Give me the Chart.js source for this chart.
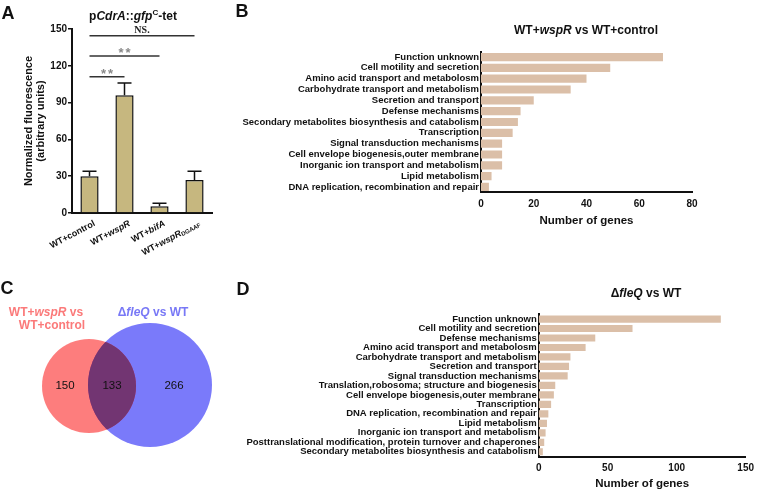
<!DOCTYPE html>
<html>
<head>
<meta charset="utf-8">
<script src="https://cdn.jsdelivr.net/npm/chart.js@4"></script>
<style>
    body { margin: 0; background: #fff; }
    #fig { position: relative; width: 760px; height: 491px; overflow: hidden; font-family: Arial, "Liberation Sans", sans-serif; color: #111; }
    canvas { position: absolute; }
    .lbl { position: absolute; font-weight: bold; white-space: nowrap; transform: translate(-50%, -50%); }
    .panel { font-size: 18px; }
    .ttl { font-size: 12px; }
</style>
</head>
<body>
<div id="fig">
    <canvas id="chartA" width="230" height="280" style="left:0;top:0"></canvas>
    <canvas id="chartB" width="530" height="280" style="left:230px;top:0"></canvas>
    <canvas id="chartC" width="230" height="211" style="left:0;top:280px"></canvas>
    <canvas id="chartD" width="530" height="211" style="left:230px;top:280px"></canvas>

    <div class="lbl panel" style="left:8px;top:13px">A</div>
    <div class="lbl panel" style="left:242px;top:11px">B</div>
    <div class="lbl panel" style="left:7px;top:288px">C</div>
    <div class="lbl panel" style="left:243px;top:289px">D</div>

    <div class="lbl ttl" style="left:133px;top:15px">p<i>CdrA</i>::<i>gfp</i><sup style="font-size:8px">C</sup>-tet</div>
    <div class="lbl ttl" style="left:586px;top:30px">WT+<i>wspR</i> vs WT+control</div>
    <div class="lbl ttl" style="left:646px;top:293px">Δ<i>fleQ</i> vs WT</div>

    <div class="lbl ttl" style="left:46px;top:312px;color:#fb7a7a">WT+<i>wspR</i> vs</div>
    <div class="lbl ttl" style="left:52px;top:325px;color:#fb7a7a">WT+control</div>
    <div class="lbl ttl" style="left:153px;top:312px;color:#7878f6">Δ<i>fleQ</i> vs WT</div>
</div>
<script>
Chart.defaults.font.family = 'Arial, "Liberation Sans", sans-serif';
const FONT = 'Arial, "Liberation Sans", sans-serif';

// panel A: fluorescence
const aLabelParts = [
    [['WT+control', '']],
    [['WT+', ''], ['wspR', 'italic']],
    [['WT+', ''], ['bifA', 'italic']],
    [['WT+', ''], ['wspR', 'italic'], ['DGAAF', 'sub']]
];
const aCats = aLabelParts.map(p => p.map(s => s[0]).join(''));
const aMeans = [30, 96, 5.5, 27];
const aErrors = [4, 10, 2.5, 7];
const sigPairs = [[0, 1], [0, 2], [0, 3]];
const sigLevels = [111, 128, 144.5];
const sigMarks = ['**', '**', 'NS.'];

// panel B: WT+wspR vs WT+control
const bCats = [
    'Function unknown',
    'Cell motility and secretion',
    'Amino acid transport and metabolosm',
    'Carbohydrate transport and metabolism',
    'Secretion and transport',
    'Defense mechanisms',
    'Secondary metabolites biosynthesis and catabolism',
    'Transcription',
    'Signal transduction mechanisms',
    'Cell envelope biogenesis,outer membrane',
    'Inorganic ion transport and metabolism',
    'Lipid metabolism',
    'DNA replication, recombination and repair'
];
const bCounts = [69, 49, 40, 34, 20, 15, 14, 12, 8, 8, 8, 4, 3];

// panel C: venn
const vennCounts = [150, 133, 266];
const vennColors = ['rgba(251,0,0,0.51)', 'rgba(0,0,245,0.52)'];
const vennOverlapColor = '#723572';

// panel D: fleQ vs WT
const dCats = [
    'Function unknown',
    'Cell motility and secretion',
    'Defense mechanisms',
    'Amino acid transport and metabolosm',
    'Carbohydrate transport and metabolism',
    'Secretion and transport',
    'Signal transduction mechanisms',
    'Translation,robosoma; structure and biogenesis',
    'Cell envelope biogenesis,outer membrane',
    'Transcription',
    'DNA replication, recombination and repair',
    'Lipid metabolism',
    'Inorganic ion transport and metabolism',
    'Posttranslational modification, protein turnover and chaperones',
    'Secondary metabolites biosynthesis and catabolism'
];
const dCounts = [132, 68, 41, 34, 23, 22, 21, 12, 11, 9, 7, 6, 5, 4, 3];

const aBarColor = '#c6b77f';
const geneColor = '#dbbfa8';

const errorBars = {
    id: 'errorBars',
    afterDatasetsDraw(chart) {
        const { ctx, scales: { y } } = chart;
        ctx.save();
        ctx.strokeStyle = '#111';
        ctx.lineWidth = 1.5;
        chart.getDatasetMeta(0).data.forEach((bar, i) => {
            const top = y.getPixelForValue(aMeans[i] + aErrors[i]);
            ctx.beginPath();
            ctx.moveTo(bar.x, bar.y);
            ctx.lineTo(bar.x, top);
            ctx.moveTo(bar.x - 7, top);
            ctx.lineTo(bar.x + 7, top);
            ctx.stroke();
        });
        ctx.restore();
    }
};

const sigBrackets = {
    id: 'sigBrackets',
    afterDraw(chart) {
        const { ctx, scales: { x, y } } = chart;
        ctx.save();
        sigPairs.forEach(([a, b], k) => {
            const x1 = x.getPixelForValue(a), x2 = x.getPixelForValue(b);
            const yy = y.getPixelForValue(sigLevels[k]);
            ctx.strokeStyle = '#333';
            ctx.lineWidth = 1.5;
            ctx.beginPath();
            ctx.moveTo(x1, yy);
            ctx.lineTo(x2, yy);
            ctx.stroke();
            const ns = sigMarks[k] === 'NS.';
            ctx.textAlign = 'center';
            ctx.textBaseline = 'alphabetic';
            if (ns) {
                ctx.fillStyle = '#222';
                ctx.font = 'bold 10px "Liberation Serif", serif';
                ctx.fillText(sigMarks[k], (x1 + x2) / 2, yy - 2.5);
            } else {
                ctx.fillStyle = '#888';
                ctx.font = 'bold 13px ' + FONT;
                ctx.letterSpacing = '2px';
                ctx.fillText(sigMarks[k], (x1 + x2) / 2 + 1, yy + 1);
                ctx.letterSpacing = '0px';
            }
        });
        ctx.restore();
    }
};

const aLabels = {
    id: 'aLabels',
    afterDraw(chart) {
        const { ctx, scales: { x }, chartArea } = chart;
        aLabelParts.forEach((parts, i) => {
            const fonts = parts.map(p => p[1] === 'sub' ? 'bold 6px ' + FONT
                : p[1] === 'italic' ? 'italic bold 9px ' + FONT : 'bold 9px ' + FONT);
            const widths = parts.map((p, k) => { ctx.font = fonts[k]; return ctx.measureText(p[0]).width; });
            const total = widths.reduce((s, w) => s + w, 0);
            ctx.save();
            ctx.translate(x.getPixelForValue(i) + 3, chartArea.bottom + 6);
            ctx.rotate(-28 * Math.PI / 180);
            ctx.textBaseline = 'top';
            ctx.textAlign = 'left';
            ctx.fillStyle = '#111';
            let cx = -total;
            parts.forEach((p, k) => {
                ctx.font = fonts[k];
                ctx.fillText(p[0], cx, p[1] === 'sub' ? 3.5 : 0);
                cx += widths[k];
            });
            ctx.restore();
        });
    }
};

new Chart(document.getElementById('chartA'), {
    type: 'bar',
    data: {
        labels: aCats,
        datasets: [{
            data: aMeans,
            backgroundColor: aBarColor,
            borderColor: '#111',
            borderWidth: 1.5,
            barPercentage: 0.52,
            categoryPercentage: 1
        }]
    },
    options: {
        responsive: false,
        animation: false,
        events: [],
        layout: { padding: { top: 29, right: 18, left: 0, bottom: 0 } },
        plugins: { legend: { display: false }, tooltip: { enabled: false } },
        scales: {
            x: {
                grid: { display: false, drawTicks: false },
                border: { color: '#111', width: 2 },
                ticks: { display: false },
                afterFit: s => { s.height = 67; }
            },
            y: {
                min: 0,
                max: 150,
                grid: { drawOnChartArea: false, color: '#111', lineWidth: 1.5, tickLength: 4 },
                border: { color: '#111', width: 2 },
                ticks: { stepSize: 30, padding: 1, color: '#111', font: { size: 10, weight: 'bold' } },
                title: {
                    display: true,
                    text: ['Normalized fluorescence', '(arbitrary units)'],
                    color: '#111',
                    font: { size: 11, weight: 'bold', lineHeight: 1.1 },
                    padding: { top: 23, bottom: 0 }
                },
                afterFit: s => { s.width = 72; }
            }
        }
    },
    plugins: [errorBars, sigBrackets, aLabels]
});

function hbarChart(id, cats, counts, o) {
    return new Chart(document.getElementById(id), {
        type: 'bar',
        data: {
            labels: cats,
            datasets: [{ data: counts, backgroundColor: geneColor, barPercentage: 0.76, categoryPercentage: 1 }]
        },
        options: {
            indexAxis: 'y',
            responsive: false,
            animation: false,
            events: [],
            layout: { padding: o.padding },
            plugins: { legend: { display: false }, tooltip: { enabled: false } },
            scales: {
                y: {
                    grid: { display: false, drawTicks: false },
                    border: { color: '#111', width: 2 },
                    ticks: { autoSkip: false, padding: 2, color: '#111', font: { size: 9.5, weight: 'bold' } },
                    afterFit: s => { s.width = o.axisLeft; }
                },
                x: {
                    min: 0,
                    max: o.max,
                    grid: { display: false, drawTicks: false },
                    border: { color: '#111', width: 2 },
                    ticks: { stepSize: o.step, padding: 6, color: '#111', font: { size: 10, weight: 'bold' } },
                    title: {
                        display: true,
                        text: 'Number of genes',
                        color: '#111',
                        font: { size: 11.5, weight: 'bold' },
                        padding: { top: 0, bottom: o.titlePad }
                    },
                    afterFit: s => { s.height = o.axisHeight; }
                }
            }
        }
    });
}

hbarChart('chartB', bCats, bCounts, {
    padding: { top: 51.6, right: 68, left: 0, bottom: 0 },
    axisLeft: 251, axisHeight: 87.6, max: 80, step: 20, titlePad: 52
});

hbarChart('chartD', dCats, dCounts, {
    padding: { top: 34.3, right: 8, left: 0, bottom: 0 },
    axisLeft: 308.7, axisHeight: 34.5, max: 150, step: 50, titlePad: 0
});

// venn: circle placement on the 230x211 panel
const vennCircles = [{ x: 89, y: 106, r: 47 }, { x: 150, y: 105, r: 62 }];

const vennOverlap = {
    id: 'vennOverlap',
    afterDatasetsDraw(chart) {
        const { ctx } = chart;
        const [a, b] = [0, 1].map(i => chart.getDatasetMeta(i).data[0]);
        const ra = a.options.radius, rb = b.options.radius;
        ctx.save();
        ctx.beginPath();
        ctx.arc(a.x, a.y, ra, 0, Math.PI * 2);
        ctx.clip();
        ctx.beginPath();
        ctx.arc(b.x, b.y, rb, 0, Math.PI * 2);
        ctx.fillStyle = vennOverlapColor;
        ctx.fill();
        ctx.restore();

        const cy = (a.y + b.y) / 2;
        const xs = [
            ((a.x - ra) + (b.x - rb)) / 2,
            ((b.x - rb) + (a.x + ra)) / 2,
            ((a.x + ra) + (b.x + rb)) / 2
        ];
        ctx.save();
        ctx.fillStyle = '#111';
        ctx.font = '11.5px ' + FONT;
        ctx.textAlign = 'center';
        ctx.textBaseline = 'middle';
        vennCounts.forEach((n, i) => ctx.fillText(String(n), xs[i], cy));
        ctx.restore();
    }
};

new Chart(document.getElementById('chartC'), {
    type: 'bubble',
    data: {
        datasets: vennCircles.map((c, i) => ({
            data: [{ x: c.x, y: c.y, r: c.r }],
            backgroundColor: vennColors[i],
            borderWidth: 0,
            clip: false
        }))
    },
    options: {
        responsive: false,
        animation: false,
        events: [],
        layout: { padding: 0, autoPadding: false },
        plugins: { legend: { display: false }, tooltip: { enabled: false } },
        scales: {
            x: { display: false, min: 0, max: 230 },
            y: { display: false, min: 0, max: 211, reverse: true }
        }
    },
    plugins: [vennOverlap]
});
</script>
</body>
</html>
